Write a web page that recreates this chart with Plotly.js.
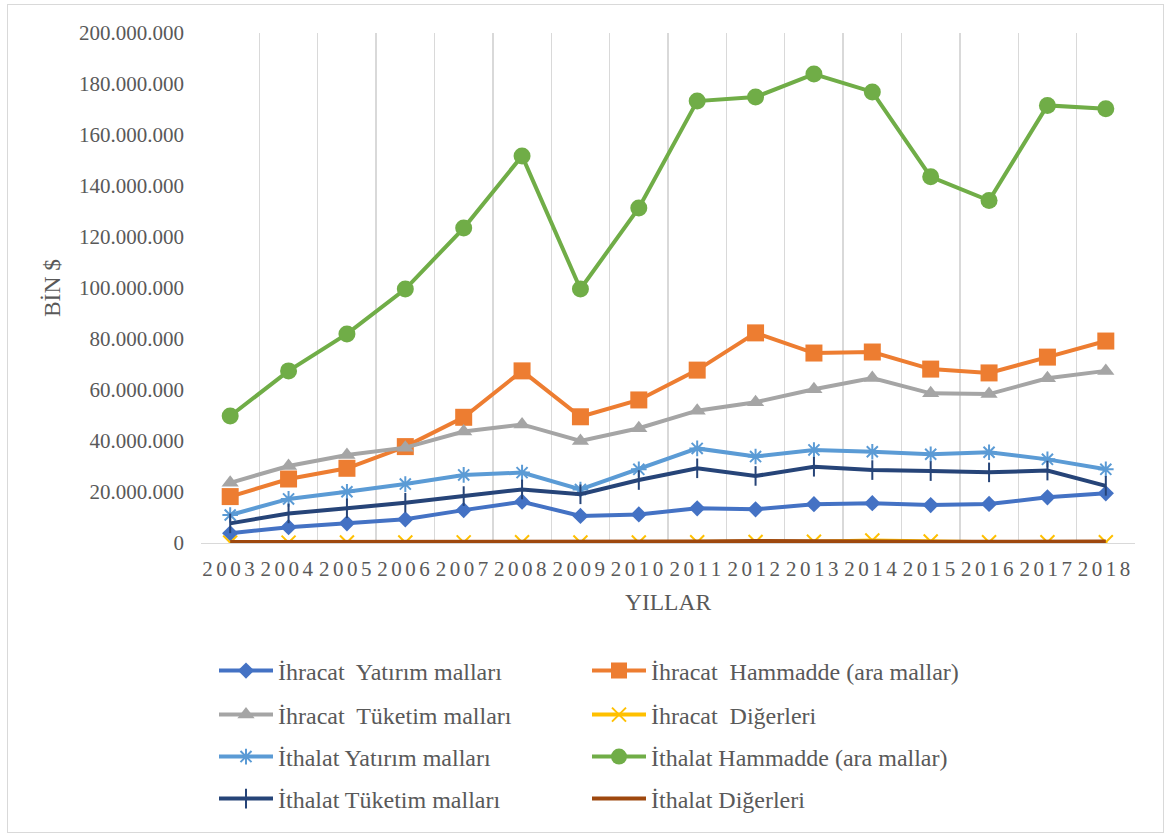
<!DOCTYPE html>
<html>
<head>
<meta charset="utf-8">
<script src="https://cdn.plot.ly/plotly-3.0.1.min.js"></script>
<style>
  html, body { margin: 0; padding: 0; background: #ffffff; }
  #wrap { position: relative; width: 1165px; height: 833px; }
  #chart { position: absolute; left: 0; top: 0; width: 1165px; height: 833px; }
  #frame { position: absolute; left: 7px; top: 4px; width: 1155px; height: 827px; border: 1px solid #d9d9d9; pointer-events: none; }
  .xtick text { letter-spacing: 3.5px; }
</style>
</head>
<body>
<div id="wrap">
  <div id="chart"></div>
  <div id="frame"></div>
</div>
<script>
// Categories (years)
const years = ['2003','2004','2005','2006','2007','2008','2009','2010','2011','2012','2013','2014','2015','2016','2017','2018'];

// Series values (BİN $)
const ihracatYatirim   = [3800000, 6200000, 7700000, 9300000, 12900000, 16200000, 10600000, 11200000, 13600000, 13200000, 15200000, 15600000, 14900000, 15300000, 17900000, 19500000];
const ihracatHammadde  = [18200000, 25100000, 29300000, 37800000, 49300000, 67500000, 49500000, 56100000, 67800000, 82400000, 74500000, 74900000, 68200000, 66700000, 72900000, 79200000];
const ihracatTuketim   = [23600000, 30200000, 34500000, 37400000, 43700000, 46500000, 40000000, 45000000, 51900000, 55200000, 60300000, 64700000, 58700000, 58400000, 64600000, 67500000];
const ihracatDiger     = [150000, 150000, 200000, 200000, 250000, 300000, 200000, 200000, 300000, 400000, 500000, 1000000, 600000, 300000, 300000, 300000];
const ithalatYatirim   = [11000000, 17300000, 20100000, 23100000, 26700000, 27600000, 21000000, 28900000, 37100000, 33900000, 36500000, 35800000, 34800000, 35600000, 32800000, 28900000];
const ithalatHammadde  = [49800000, 67500000, 82000000, 99600000, 123500000, 151800000, 99600000, 131400000, 173300000, 174900000, 183900000, 176900000, 143600000, 134300000, 171600000, 170300000];
const ithalatTuketim   = [7700000, 11600000, 13600000, 15800000, 18400000, 21000000, 19100000, 24700000, 29300000, 26300000, 29900000, 28600000, 28200000, 27700000, 28400000, 22400000];
const ithalatDiger     = [400000, 400000, 500000, 500000, 600000, 600000, 500000, 500000, 600000, 800000, 600000, 600000, 500000, 500000, 600000, 600000];

// Labels
const seriesNames = [
  'İhracat  Yatırım malları',
  'İhracat  Hammadde (ara mallar)',
  'İhracat  Tüketim malları',
  'İhracat  Diğerleri',
  'İthalat Yatırım malları',
  'İthalat Hammadde (ara mallar)',
  'İthalat Tüketim malları',
  'İthalat Diğerleri'
];
const yTitle = 'BİN $';
const xTitle = 'YILLAR';

const FONT = 'Liberation Serif, Times New Roman, serif';
const TXT = '#595959';
const LW = 4;

function tr(name, y, color, symbol, size, legendId, extraMarker) {
  const marker = Object.assign({ color: color, symbol: symbol, size: size, line: { width: 0, color: color } }, extraMarker || {});
  return {
    type: 'scatter', mode: symbol ? 'lines+markers' : 'lines',
    x: years, y: y, name: name,
    line: { color: color, width: LW },
    marker: marker,
    legend: legendId,
    hoverinfo: 'skip'
  };
}

const data = [
  tr(seriesNames[0], ihracatYatirim,  '#4472C4', 'diamond', 12.5, 'legend'),
  tr(seriesNames[1], ihracatHammadde, '#ED7D31', 'square', 17, 'legend'),
  tr(seriesNames[2], ihracatTuketim,  '#A5A5A5', 'triangle-up', 15, 'legend2'),
  tr(seriesNames[3], ihracatDiger,    '#FFC000', 'x-thin-open', 14, 'legend2', { line: { width: 2, color: '#FFC000' } }),
  tr(seriesNames[4], ithalatYatirim,  '#5B9BD5', 'asterisk-open', 13, 'legend3', { line: { width: 2, color: '#5B9BD5' } }),
  tr(seriesNames[5], ithalatHammadde, '#70AD47', 'circle', 17, 'legend3'),
  tr(seriesNames[6], ithalatTuketim,  '#264478', 'line-ns-open', 14, 'legend4', { line: { width: 2, color: '#264478' } }),
  tr(seriesNames[7], ithalatDiger,    '#9E480E', null, 0, 'legend4')
];

const L = 201, R = 1135, T = 33, B = 543;
const pw = R - L, ph = B - T;
function px2x(px) { return (px - L) / pw; }
function py2y(py) { return (B - py) / ph; }

function legendAt(rowY) {
  return {
    orientation: 'h', x: px2x(214), xanchor: 'left', y: py2y(rowY), yanchor: 'middle',
    font: { family: FONT, size: 24, color: TXT },
    itemwidth: 54,
    entrywidth: 304, entrywidthmode: 'pixels',
    bgcolor: 'rgba(0,0,0,0)', borderwidth: 0, itemclick: false, itemdoubleclick: false
  };
}

const layout = {
  width: 1165, height: 833,
  margin: { l: L, r: 1165 - R, t: T, b: 833 - B, pad: 0 },
  paper_bgcolor: '#ffffff', plot_bgcolor: '#ffffff',
  separators: ',.',
  font: { family: FONT, color: TXT },
  showlegend: true,
  xaxis: {
    type: 'category', range: [-0.5, 15.5], fixedrange: true,
    tickson: 'boundaries', ticks: '', showgrid: true, gridcolor: '#d9d9d9', gridwidth: 1.3,
    showline: true, linecolor: '#d9d9d9', linewidth: 1.3, zeroline: false,
    tickfont: { family: FONT, size: 21, color: TXT }, ticklabelstandoff: 6,
    title: { text: xTitle, font: { family: FONT, size: 23.5, color: TXT }, standoff: 14 },
    automargin: false
  },
  yaxis: {
    range: [0, 200000000], dtick: 20000000, tickformat: ',d', fixedrange: true,
    showgrid: false, zeroline: false, showline: false, ticks: '',
    tickfont: { family: FONT, size: 21, color: TXT }, ticklabelstandoff: 16,
    title: { text: yTitle, font: { family: FONT, size: 23.5, color: TXT }, standoff: 11 },
    automargin: false
  },
  legend: legendAt(671),
  legend2: legendAt(715),
  legend3: legendAt(757),
  legend4: legendAt(799)
};

Plotly.newPlot('chart', data, layout, { displayModeBar: false, staticPlot: true });
</script>
</body>
</html>
